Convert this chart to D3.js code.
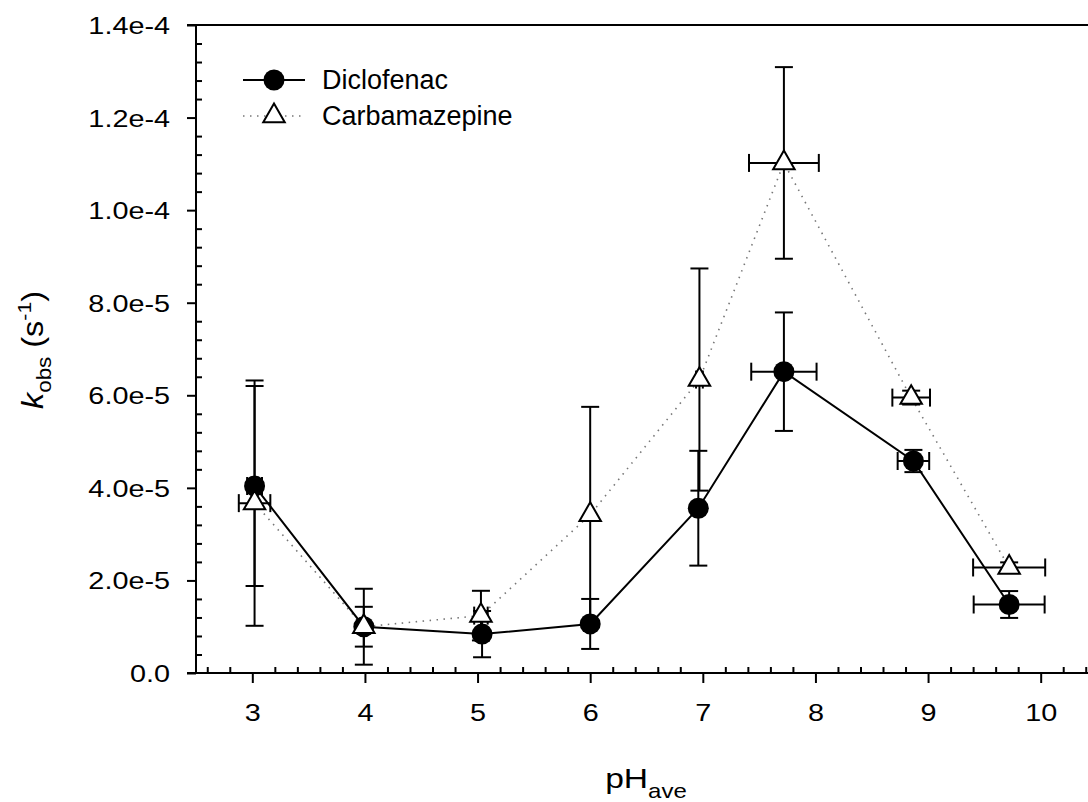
<!DOCTYPE html>
<html>
<head>
<meta charset="utf-8">
<script src="https://cdn.jsdelivr.net/npm/d3@7"></script>
<style>
  body { margin: 0; background: #fff; }
  text { font-family: "Liberation Sans", Arial, sans-serif; fill: #000; }
</style>
</head>
<body>
<div id="chart"></div>
<script>
// data
var diclofenacPH    = [3.02, 3.99, 5.04, 6.00, 6.96, 7.72, 8.87, 9.72];
var diclofenacPHErr = [0.066, 0, 0, 0, 0, 0.29, 0.14, 0.315];
var diclofenacK     = [4.04e-5, 1.00e-5, 8.4e-6, 1.06e-5, 3.56e-5, 6.51e-5, 4.58e-5, 1.48e-5];
var diclofenacKErr  = [2.16e-5, 4.3e-6, 5.0e-6, 5.4e-6, 1.24e-5, 1.28e-5, 2.4e-6, 2.9e-6];

var carbaPH    = [3.02, 3.99, 5.03, 6.00, 6.97, 7.72, 8.85, 9.72];
var carbaPHErr = [0.14, 0, 0.06, 0, 0.03, 0.31, 0.167, 0.32];
var carbaK     = [3.67e-5, 1.00e-5, 1.24e-5, 3.42e-5, 6.34e-5, 1.102e-4, 5.95e-5, 2.28e-5];
var carbaKErr  = [2.65e-5, 8.2e-6, 5.36e-6, 2.33e-5, 2.40e-5, 2.07e-5, 1.5e-6, 1.1e-6];

var xTicks = [3, 4, 5, 6, 7, 8, 9, 10];
var yTicks = [0, 2e-5, 4e-5, 6e-5, 8e-5, 1e-4, 1.2e-4, 1.4e-4];
var yTickLabels = ["0.0", "2.0e-5", "4.0e-5", "6.0e-5", "8.0e-5", "1.0e-4", "1.2e-4", "1.4e-4"];
var seriesNames = ["Diclofenac", "Carbamazepine"];

var W = 1088, H = 802,
    plotL = 196, plotR = 1097, plotT = 25, plotB = 673,
    stretch = 1.2,   // tick and title glyphs in the picture are wide
    capW = 18;

var svg = d3.select("#chart").append("svg")
    .attr("width", W).attr("height", H);

var x = d3.scaleLinear().domain([2.5, 10.5]).range([plotL, plotR]);
var y = d3.scaleLinear().domain([0, 1.4e-4]).range([plotB, plotT]);

var xMinor = d3.range(2.6, 10.5, 0.2).filter(function (v) { return Math.abs(v - Math.round(v)) > 0.01; });
var yMinor = d3.range(0, 1.4e-4, 4e-6).filter(function (v) { return Math.abs(v / 2e-5 - Math.round(v / 2e-5)) > 0.01; });

// frame line on top
svg.append("line").attr("x1", plotL - 9).attr("x2", W + 20).attr("y1", plotT).attr("y2", plotT)
    .attr("stroke", "#000").attr("stroke-width", 2);

// axes
var gx = svg.append("g").attr("transform", "translate(0," + plotB + ")")
    .call(d3.axisBottom(x).tickValues(xTicks).tickSize(10).tickSizeOuter(0).tickFormat(d3.format("d")));
var gxm = svg.append("g").attr("transform", "translate(0," + plotB + ")")
    .call(d3.axisBottom(x).tickValues(xMinor).tickSize(-6).tickSizeOuter(0).tickFormat(""));
var gy = svg.append("g").attr("transform", "translate(" + plotL + ",0)")
    .call(d3.axisLeft(y).tickValues(yTicks).tickSize(9).tickSizeOuter(0)
      .tickFormat(function (d, i) { return yTickLabels[i]; }));
var gym = svg.append("g").attr("transform", "translate(" + plotL + ",0)")
    .call(d3.axisLeft(y).tickValues(yMinor).tickSize(-6).tickSizeOuter(0).tickFormat(""));

[gx, gxm, gy, gym].forEach(function (g) {
  g.select(".domain").remove();
  g.selectAll("line").attr("stroke", "#000").attr("stroke-width", 2);
});
svg.append("line").attr("x1", plotL - 9).attr("x2", W + 20).attr("y1", plotB).attr("y2", plotB)
    .attr("stroke", "#000").attr("stroke-width", 2);
svg.append("line").attr("x1", plotL).attr("x2", plotL).attr("y1", plotT).attr("y2", plotB)
    .attr("stroke", "#000").attr("stroke-width", 2);

gx.selectAll("text")
    .attr("y", null).attr("dy", null)
    .attr("transform", "translate(0,48) scale(" + stretch + ",1)")
    .style("font-size", "24px").style("font-family", "Liberation Sans, Arial, sans-serif")
    .attr("fill", "#000");
gy.selectAll("text")
    .attr("x", null).attr("dy", null)
    .attr("transform", "translate(-26,8.5) scale(" + stretch + ",1)")
    .style("font-size", "24px").style("font-family", "Liberation Sans, Arial, sans-serif")
    .attr("fill", "#000");

// series lines
var lineGen = d3.line().x(function (d) { return x(d[0]); }).y(function (d) { return y(d[1]); });
var carbaPts = d3.zip(carbaPH, carbaK);
var dicloPts = d3.zip(diclofenacPH, diclofenacK);

svg.append("path").attr("d", lineGen(carbaPts)).attr("fill", "none")
    .attr("stroke", "#777").attr("stroke-width", 1.6).attr("stroke-dasharray", "1.5,5.5");
svg.append("path").attr("d", lineGen(dicloPts)).attr("fill", "none")
    .attr("stroke", "#000").attr("stroke-width", 2);

// error bars
function errorBars(ph, phErr, k, kErr) {
  var g = svg.append("g").attr("stroke", "#000").attr("stroke-width", 2);
  ph.forEach(function (p, i) {
    var cx = x(p), cy = y(k[i]);
    if (kErr[i] > 0) {
      var y1 = y(k[i] + kErr[i]), y2 = y(k[i] - kErr[i]);
      g.append("line").attr("x1", cx).attr("x2", cx).attr("y1", y1).attr("y2", y2);
      g.append("line").attr("x1", cx - capW / 2).attr("x2", cx + capW / 2).attr("y1", y1).attr("y2", y1);
      g.append("line").attr("x1", cx - capW / 2).attr("x2", cx + capW / 2).attr("y1", y2).attr("y2", y2);
    }
    if (phErr[i] > 0) {
      var x1 = x(p - phErr[i]), x2 = x(p + phErr[i]);
      g.append("line").attr("x1", x1).attr("x2", x2).attr("y1", cy).attr("y2", cy);
      g.append("line").attr("x1", x1).attr("x2", x1).attr("y1", cy - capW / 2).attr("y2", cy + capW / 2);
      g.append("line").attr("x1", x2).attr("x2", x2).attr("y1", cy - capW / 2).attr("y2", cy + capW / 2);
    }
  });
}
errorBars(diclofenacPH, diclofenacPHErr, diclofenacK, diclofenacKErr);
errorBars(carbaPH, carbaPHErr, carbaK, carbaKErr);

// markers
var tri = d3.symbol().type(d3.symbolTriangle).size(200);

svg.selectAll(".dot").data(dicloPts).enter().append("circle")
    .attr("class", "dot")
    .attr("cx", function (d) { return x(d[0]); })
    .attr("cy", function (d) { return y(d[1]); })
    .attr("r", 10.5).attr("fill", "#000");

svg.selectAll(".tri").data(carbaPts).enter().append("path")
    .attr("class", "tri")
    .attr("d", tri)
    .attr("transform", function (d) { return "translate(" + x(d[0]) + "," + y(d[1]) + ")"; })
    .attr("fill", "#fff").attr("stroke", "#000").attr("stroke-width", 2);

// legend
var lg = svg.append("g");
lg.append("line").attr("x1", 243).attr("x2", 305).attr("y1", 80).attr("y2", 80)
    .attr("stroke", "#000").attr("stroke-width", 2);
lg.append("circle").attr("cx", 274).attr("cy", 80).attr("r", 10.5).attr("fill", "#000");
lg.append("line").attr("x1", 243).attr("x2", 305).attr("y1", 116).attr("y2", 116)
    .attr("stroke", "#777").attr("stroke-width", 1.6).attr("stroke-dasharray", "1.5,5.5");
lg.append("path").attr("d", tri).attr("transform", "translate(274,116)")
    .attr("fill", "#fff").attr("stroke", "#000").attr("stroke-width", 2);
lg.selectAll(".lgtext").data(seriesNames).enter().append("text")
    .attr("class", "lgtext")
    .attr("x", 322)
    .attr("y", function (d, i) { return 89 + i * 36; })
    .style("font-size", "27px")
    .text(function (d) { return d; });

// axis titles
var xt = svg.append("text")
    .attr("transform", "translate(646,788) scale(" + stretch + ",1)")
    .attr("text-anchor", "middle").style("font-size", "28px");
xt.append("tspan").text("pH");
xt.append("tspan").attr("dy", 10).style("font-size", "20px").text("ave");

var yt = svg.append("text")
    .attr("transform", "translate(43,350) rotate(-90) scale(1.12,1)")
    .attr("text-anchor", "middle").style("font-size", "29px");
yt.append("tspan").style("font-style", "italic").text("k");
yt.append("tspan").attr("dy", 8).style("font-size", "20px").text("obs");
yt.append("tspan").attr("dy", -8).text(" (s");
yt.append("tspan").attr("dy", -12).style("font-size", "19px").text("-1");
yt.append("tspan").attr("dy", 12).text(")");
</script>
</body>
</html>
